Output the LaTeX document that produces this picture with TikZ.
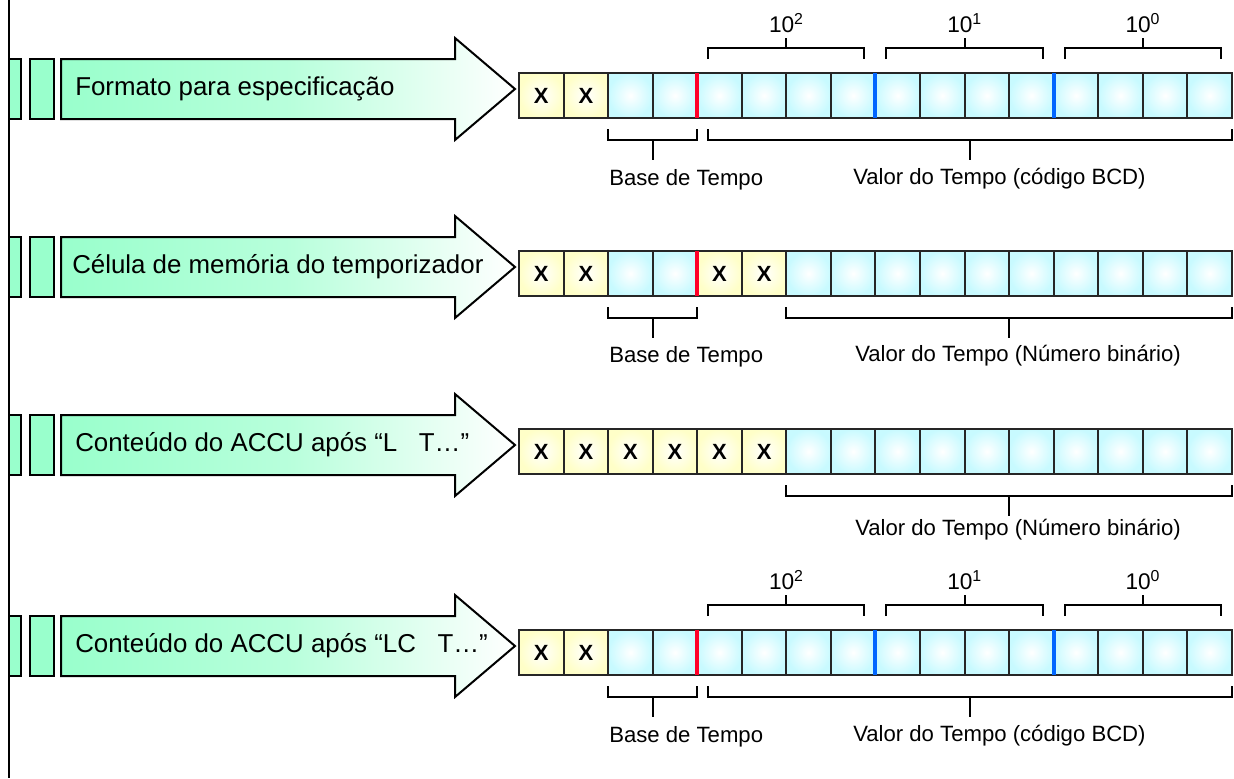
\documentclass[tikz,border=0pt]{standalone}
\usepackage{fontspec}
\setmainfont{Liberation Sans}
\usepackage{xcolor}
\usepackage{tikz}
\usetikzlibrary{calc,positioning}
\definecolor{mint}{RGB}{153,255,204}
\definecolor{cellblue}{RGB}{200,250,255}
\definecolor{cellyellow}{RGB}{255,255,200}
\definecolor{sepred}{RGB}{255,0,40}
\definecolor{sepblue}{RGB}{0,102,255}
\tikzset{cell/.style={rectangle,draw=black!85,line width=1.5pt,minimum width=33.42pt,minimum height=33.75pt,inner sep=0pt,outer sep=0pt,shading=radial,inner color=white}}
\tikzset{bcell/.style={cell,outer color=cellblue}}
\tikzset{xcell/.style={cell,outer color=cellyellow,font=\fontsize{16.5}{18}\selectfont\bfseries}}
\tikzset{tab/.style={draw=black,fill=mint,line width=1.5pt}}
\tikzset{fatarrow/.style={draw=black,line width=1.5pt,left color=mint,right color=white,middle color=mint!70!white}}
\tikzset{arrowtext/.style={anchor=west,inner sep=0pt,font=\fontsize{19.4}{23}\selectfont}}
\tikzset{brace/.style={line width=1.5pt}}
\tikzset{lbl/.style={anchor=north west,inner sep=0pt,font=\fontsize{16.6}{19}\selectfont}}
\tikzset{pow/.style={inner sep=0pt,font=\fontsize{17}{20}\selectfont}}
\tikzset{sep/.style={line width=3pt}}

\begin{document}
\begin{tikzpicture}[x=0.75pt,y=-0.75pt]
    \useasboundingbox (0,0) rectangle (1234,778);
    \draw[line width=1.5pt] (9,0) -- (9,778);

    % the four big arrows with their tabs
    \foreach \c/\n/\tx/\t in {89/1/75/Formato para especificação,
                              267/2/72/Célula de memória do temporizador,
                              445/3/75/Conteúdo do ACCU após “L\ \ \ T…”,
                              646/4/75/Conteúdo do ACCU após “LC\ \ \ T…”}{
        \draw[tab] (9,\c-30) rectangle (21,\c+30);
        \draw[tab] (30,\c-30) rectangle (54,\c+30);
        \draw[fatarrow] (61,\c-30) -- (455,\c-30) -- (455,\c-51) -- (515,\c)
            -- (455,\c+51) -- (455,\c+30) -- (61,\c+30) -- cycle;
        \node[arrowtext] (t\n) at (\tx,\c) {\t};
    }

    % register a: format
    \foreach \i in {1,2} \node[xcell] (a\i) at ({519+44.56*(\i-.5)},95.5) {X};
    \foreach \i in {3,...,16} \node[bcell] (a\i) at ({519+44.56*(\i-.5)},95.5) {};
    \draw[sep,sepred] (a4.north east) -- (a4.south east);
    \draw[sep,sepblue] (a8.north east) -- (a8.south east);
    \draw[sep,sepblue] (a12.north east) -- (a12.south east);
    \foreach \p/\q/\e in {5/8/2,9/12/1,13/16/0}{
        \draw[brace] ($(a\p.north west)+(11,-14)$) -- ++(0,-11) -| ($(a\q.north east)+(-11,-14)$);
        \draw[brace] ($(a\p.north west)!.5!(a\q.north east)+(0,-25)$) -- ++(0,-10)
            node[pow,above=3pt] (a-e\e) {10\textsuperscript{\e}};
    }
    \draw[brace] ($(a3.south west)+(0,11)$) -- ++(0,11) -| ($(a4.south east)+(0,11)$);
    \draw[brace] ($(a3.south west)!.5!(a4.south east)+(0,22)$) -- ++(0,20);
    \draw[brace] ($(a5.south west)+(11,11)$) -- ++(0,11) -| ($(a16.south east)+(0,11)$);
    \draw[brace] ($(a5.south west)!.5!(a16.south east)+(5.5,22)$) -- ++(0,20);
    \node[lbl] (a-base) at (609,169) {Base de Tempo};
    \node[lbl] (a-val) at (853,168) {Valor do Tempo (código BCD)};

    % register b: timer cell
    \foreach \i in {1,2,5,6} \node[xcell] (b\i) at ({519+44.56*(\i-.5)},273.5) {X};
    \foreach \i in {3,4,7,8,...,16} \node[bcell] (b\i) at ({519+44.56*(\i-.5)},273.5) {};
    \draw[sep,sepred] (b4.north east) -- (b4.south east);
    \draw[brace] ($(b3.south west)+(0,11)$) -- ++(0,11) -| ($(b4.south east)+(0,11)$);
    \draw[brace] ($(b3.south west)!.5!(b4.south east)+(0,22)$) -- ++(0,20);
    \draw[brace] ($(b7.south west)+(0,11)$) -- ++(0,11) -| ($(b16.south east)+(0,11)$);
    \draw[brace] ($(b7.south west)!.5!(b16.south east)+(0,22)$) -- ++(0,20);
    \node[lbl] (b-base) at (609,346) {Base de Tempo};
    \node[lbl] (b-val) at (855,345) {Valor do Tempo (Número binário)};

    % register c: ACCU after L
    \foreach \i in {1,...,6} \node[xcell] (c\i) at ({519+44.56*(\i-.5)},451.5) {X};
    \foreach \i in {7,...,16} \node[bcell] (c\i) at ({519+44.56*(\i-.5)},451.5) {};
    \draw[brace] ($(c7.south west)+(0,11)$) -- ++(0,11) -| ($(c16.south east)+(0,11)$);
    \draw[brace] ($(c7.south west)!.5!(c16.south east)+(0,22)$) -- ++(0,20);
    \node[lbl] (c-val) at (855,519) {Valor do Tempo (Número binário)};

    % register d: ACCU after LC
    \foreach \i in {1,2} \node[xcell] (d\i) at ({519+44.56*(\i-.5)},652.5) {X};
    \foreach \i in {3,...,16} \node[bcell] (d\i) at ({519+44.56*(\i-.5)},652.5) {};
    \draw[sep,sepred] (d4.north east) -- (d4.south east);
    \draw[sep,sepblue] (d8.north east) -- (d8.south east);
    \draw[sep,sepblue] (d12.north east) -- (d12.south east);
    \foreach \p/\q/\e in {5/8/2,9/12/1,13/16/0}{
        \draw[brace] ($(d\p.north west)+(11,-14)$) -- ++(0,-11) -| ($(d\q.north east)+(-11,-14)$);
        \draw[brace] ($(d\p.north west)!.5!(d\q.north east)+(0,-25)$) -- ++(0,-10)
            node[pow,above=3pt] (d-e\e) {10\textsuperscript{\e}};
    }
    \draw[brace] ($(d3.south west)+(0,11)$) -- ++(0,11) -| ($(d4.south east)+(0,11)$);
    \draw[brace] ($(d3.south west)!.5!(d4.south east)+(0,22)$) -- ++(0,20);
    \draw[brace] ($(d5.south west)+(11,11)$) -- ++(0,11) -| ($(d16.south east)+(0,11)$);
    \draw[brace] ($(d5.south west)!.5!(d16.south east)+(5.5,22)$) -- ++(0,20);
    \node[lbl] (d-base) at (609,726) {Base de Tempo};
    \node[lbl] (d-val) at (853,725) {Valor do Tempo (código BCD)};
\end{tikzpicture}
\end{document}
